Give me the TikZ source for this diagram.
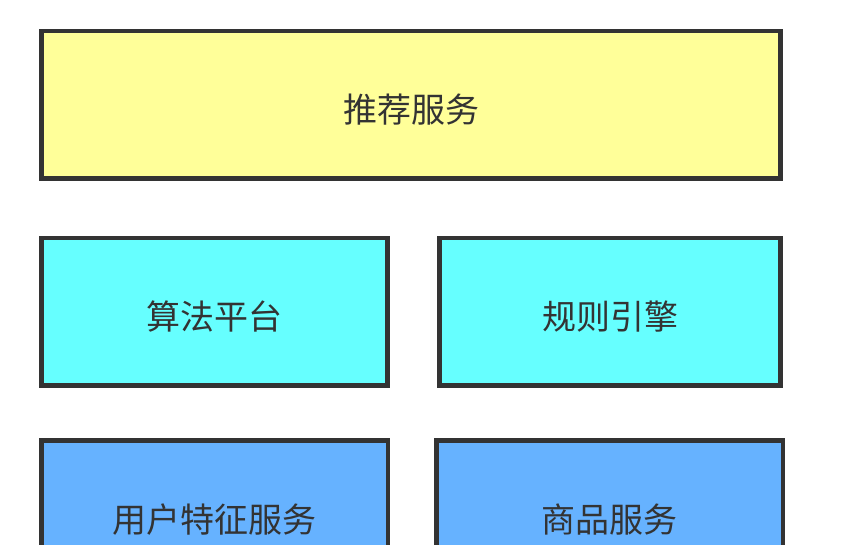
\documentclass[tikz,border=0pt]{standalone}
\usepackage{fontspec}
\newfontfamily\cjk{Noto Sans CJK SC}
\definecolor{lineC}{HTML}{333333}
\definecolor{yellowF}{HTML}{FFFF99}
\definecolor{cyanF}{HTML}{66FFFF}
\definecolor{blueF}{HTML}{66B2FF}
\tikzset{
	layer/.style={rectangle, draw=lineC, line width=4.5pt, text=lineC,
		font=\cjk\fontsize{34}{40}\selectfont, minimum height=147.5pt, inner sep=0pt,
		text height=36pt, text depth=0pt},
}
\begin{document}
\begin{tikzpicture}[x=1pt,y=-1pt]
		\useasboundingbox (0,0) rectangle (848,544);
		\clip (0,0) rectangle (848,544);
		
		% Top layer
		\node[layer, fill=yellowF, minimum width=739pt] (rec) at (411,104.75) {推荐服务};
		
		% Middle layer
		\node[layer, fill=cyanF, minimum width=346pt] (algo) at (214.5,311.75) {算法平台};
		\node[layer, fill=cyanF, minimum width=341pt] (rule) at (610,311.75) {规则引擎};
		
		% Bottom layer
		\node[layer, fill=blueF, minimum width=346.5pt] (user) at (214.75,514.25) {用户特征服务};
		\node[layer, fill=blueF, minimum width=346.5pt] (item) at (609.75,514.25) {商品服务};
		
\end{tikzpicture}
\end{document}
